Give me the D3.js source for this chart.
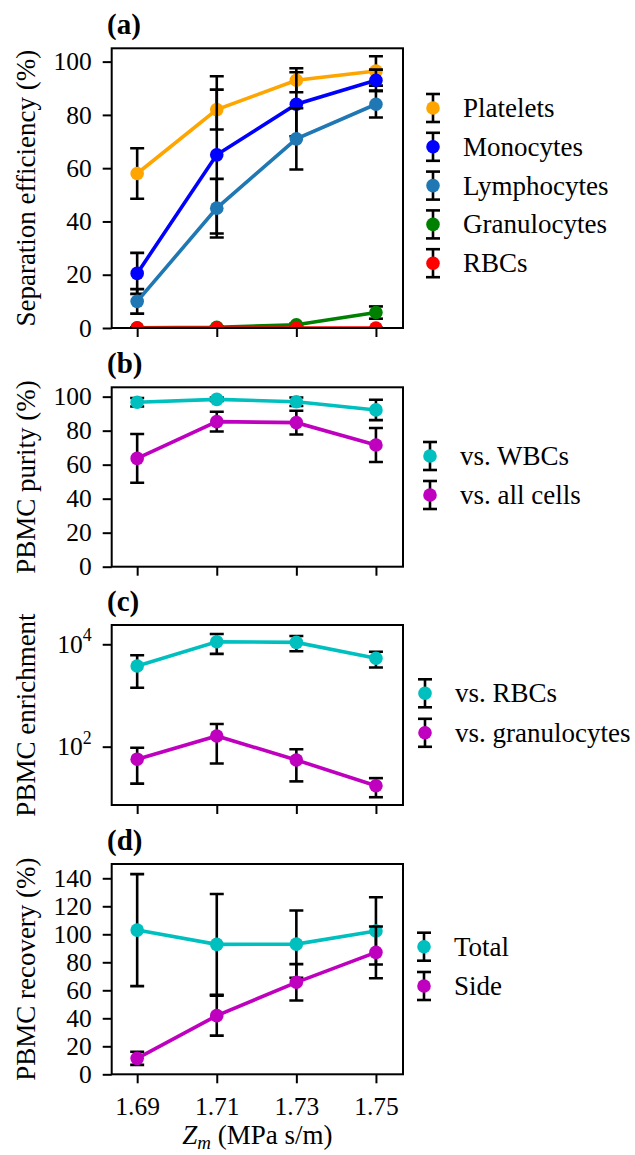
<!DOCTYPE html>
<html>
<head>
<meta charset="utf-8">
<script src="https://cdn.jsdelivr.net/npm/d3@7"></script>
<style>
  body { margin: 0; background: #fff; }
  text { font-family: "Liberation Serif", "Times New Roman", serif; }
</style>
</head>
<body>
<div id="chart"></div>
<script>
const zm = [1.69, 1.71, 1.73, 1.75];

// (a) separation efficiency (%)
const platelets = [58, 82, 93, 96.5],      plateletsErr = [9.5, 7.5, 4.5, 5.5];
const monocytes = [20.5, 65, 84, 93],      monocytesErr = [7.7, 29.5, 12, 4];
const lymphocytes = [10, 45, 71, 84],      lymphocytesErr = [4.6, 11, 11.5, 5];
const granulocytes = [0.1, 0.3, 1.2, 5.8], granulocytesErr = [0.2, 0.3, 0.5, 2.3];
const rbcs = [0, 0, 0, 0],                 rbcsErr = [0, 0, 0, 0];

// (b) PBMC purity (%)
const purityWBC = [96.7, 98.4, 97, 92.2], purityWBCErr = [2.5, 1, 2.5, 6];
const purityAll = [63.7, 85.3, 84.7, 71.6], purityAllErr = [14.3, 5.8, 7, 10];

// (c) PBMC enrichment
const enrichRBC = [3770, 11200, 10900, 5330], enrichRBCErr = [2350, 4700, 3600, 1800];
const enrichGran = [57, 162, 55, 17.3],       enrichGranErr = [38, 115, 34, 7];

// (d) PBMC recovery (%)
const recTotal = [103, 92.8, 93, 102.4], recTotalErr = [40, 36, 24, 24];
const recSide = [11.4, 41.9, 65.7, 87.1], recSideErr = [4.7, 14.3, 13, 18.5];

const linTicks = [0, 20, 40, 60, 80, 100];
const recTicks = [0, 20, 40, 60, 80, 100, 120, 140];
const logTicks = [100, 10000];

const width = 635, height = 1155;
const left = 111.7, right = 403;
const tickFont = 25.5, labelFont = 27;

const svg = d3.select("#chart").append("svg")
    .attr("width", width)
    .attr("height", height);

const x = d3.scaleLinear().domain([1.6836, 1.7568]).range([left, right]);

const panels = [
  { tag: "(a)", top: 48.3, bottom: 328, ylabel: "Separation efficiency (%)",
    y: d3.scaleLinear().domain([0, 105]), ticks: linTicks,
    series: [
      { name: "Platelets", color: "#ffa500", v: platelets, e: plateletsErr },
      { name: "Monocytes", color: "#0000ff", v: monocytes, e: monocytesErr },
      { name: "Lymphocytes", color: "#1f77b4", v: lymphocytes, e: lymphocytesErr },
      { name: "Granulocytes", color: "#008000", v: granulocytes, e: granulocytesErr },
      { name: "RBCs", color: "#ff0000", v: rbcs, e: rbcsErr }
    ],
    legend: { x: 433, y: 108, step: 38.8 } },
  { tag: "(b)", top: 387.3, bottom: 566.7, ylabel: "PBMC purity (%)",
    y: d3.scaleLinear().domain([0, 105.5]), ticks: linTicks,
    series: [
      { name: "vs. WBCs", color: "#00bfbf", v: purityWBC, e: purityWBCErr },
      { name: "vs. all cells", color: "#bf00bf", v: purityAll, e: purityAllErr }
    ],
    legend: { x: 430, y: 456, step: 39 } },
  { tag: "(c)", top: 625, bottom: 805, ylabel: "PBMC enrichment", log: true,
    y: d3.scaleLog().domain([7.26, 23800]), ticks: logTicks,
    series: [
      { name: "vs. RBCs", color: "#00bfbf", v: enrichRBC, e: enrichRBCErr },
      { name: "vs. granulocytes", color: "#bf00bf", v: enrichGran, e: enrichGranErr }
    ],
    legend: { x: 425, y: 693.3, step: 39.5 } },
  { tag: "(d)", top: 864, bottom: 1074.3, ylabel: "PBMC recovery (%)",
    y: d3.scaleLinear().domain([0, 150.2]), ticks: recTicks,
    series: [
      { name: "Total", color: "#00bfbf", v: recTotal, e: recTotalErr },
      { name: "Side", color: "#bf00bf", v: recSide, e: recSideErr }
    ],
    legend: { x: 424, y: 946.7, step: 39.3 } }
];

panels.forEach(function (p, k) {
  const y = p.y.range([p.bottom, p.top]);
  const clipId = "clip" + k;
  svg.append("clipPath").attr("id", clipId)
    .append("rect")
      .attr("x", left).attr("y", p.top)
      .attr("width", right - left).attr("height", p.bottom - p.top);

  const plot = svg.append("g").attr("clip-path", "url(#" + clipId + ")");

  const line = d3.line()
      .x(function (d, i) { return x(zm[i]); })
      .y(function (d) { return y(d); });

  p.series.forEach(function (s) {
    // error bars first, then line and markers
    const eb = plot.append("g")
        .attr("stroke", "#000")
        .attr("stroke-width", 2.6);
    s.v.forEach(function (v, i) {
      const cx = x(zm[i]);
      const y1 = y(v - s.e[i]), y2 = y(v + s.e[i]);
      eb.append("line").attr("x1", cx).attr("x2", cx).attr("y1", y1).attr("y2", y2);
      [y1, y2].forEach(function (yy) {
        eb.append("line").attr("x1", cx - 7).attr("x2", cx + 7).attr("y1", yy).attr("y2", yy);
      });
    });
    plot.append("path")
        .datum(s.v)
        .attr("fill", "none")
        .attr("stroke", s.color)
        .attr("stroke-width", 3.6)
        .attr("d", line);
    plot.selectAll(null)
        .data(s.v)
        .enter().append("circle")
        .attr("cx", function (d, i) { return x(zm[i]); })
        .attr("cy", function (d) { return y(d); })
        .attr("r", 6.8)
        .attr("fill", s.color);
  });

  // axes
  const yAxis = d3.axisLeft(y).tickValues(p.ticks).tickSize(9).tickPadding(11);
  if (!p.log) yAxis.tickFormat(d3.format("d"));
  const ya = svg.append("g").attr("transform", "translate(" + left + ",0)").call(yAxis);
  if (p.log) {
    ya.selectAll(".tick text").each(function (d) {
      const t = d3.select(this).text("");
      t.append("tspan").text("10");
      t.append("tspan").attr("font-size", tickFont * 0.7).attr("dy", "-0.65em")
          .text(Math.round(Math.log10(d)));
    });
  }
  const xAxis = d3.axisBottom(x).tickValues(zm).tickSize(9).tickPadding(14)
      .tickFormat(k === panels.length - 1 ? d3.format(".2f") : "");
  const xa = svg.append("g").attr("transform", "translate(0," + p.bottom + ")").call(xAxis);

  [ya, xa].forEach(function (a) {
    a.select(".domain").remove();
    a.selectAll(".tick line").attr("stroke-width", 2);
    a.selectAll(".tick text").attr("font-size", tickFont).attr("fill", "#000")
        .attr("font-family", "Liberation Serif, serif");
  });

  // frame
  svg.append("rect")
      .attr("x", left).attr("y", p.top)
      .attr("width", right - left).attr("height", p.bottom - p.top)
      .attr("fill", "none").attr("stroke", "#000").attr("stroke-width", 2);

  // panel tag and y label
  svg.append("text")
      .attr("x", 107).attr("y", p.top - 14)
      .attr("font-size", 29).attr("font-weight", "bold")
      .text(p.tag);
  svg.append("text")
      .attr("transform", "translate(35," + (p.top + p.bottom) / 2 + ") rotate(-90)")
      .attr("text-anchor", "middle")
      .attr("font-size", labelFont)
      .text(p.ylabel);

  // legend
  const lg = svg.append("g");
  p.series.forEach(function (s, i) {
    const ly = p.legend.y + i * p.legend.step, lx = p.legend.x;
    const item = lg.append("g").attr("stroke", "#000").attr("stroke-width", 2.6);
    item.append("line").attr("x1", lx).attr("x2", lx).attr("y1", ly - 14).attr("y2", ly + 14);
    [ly - 14, ly + 14].forEach(function (yy) {
      item.append("line").attr("x1", lx - 7).attr("x2", lx + 7).attr("y1", yy).attr("y2", yy);
    });
    lg.append("circle").attr("cx", lx).attr("cy", ly).attr("r", 6.8).attr("fill", s.color);
    lg.append("text")
        .attr("x", lx + 30).attr("y", ly + 9)
        .attr("font-size", labelFont)
        .text(s.name);
  });
});

// x label
const xl = svg.append("text")
    .attr("x", (left + right) / 2).attr("y", 1144)
    .attr("text-anchor", "middle")
    .attr("font-size", labelFont);
xl.append("tspan").attr("font-style", "italic").text("Z");
xl.append("tspan").attr("font-style", "italic").attr("font-size", labelFont * 0.7)
    .attr("dy", "0.25em").text("m");
xl.append("tspan").attr("dy", "-0.18em").text(" (MPa s/m)");
</script>
</body>
</html>
